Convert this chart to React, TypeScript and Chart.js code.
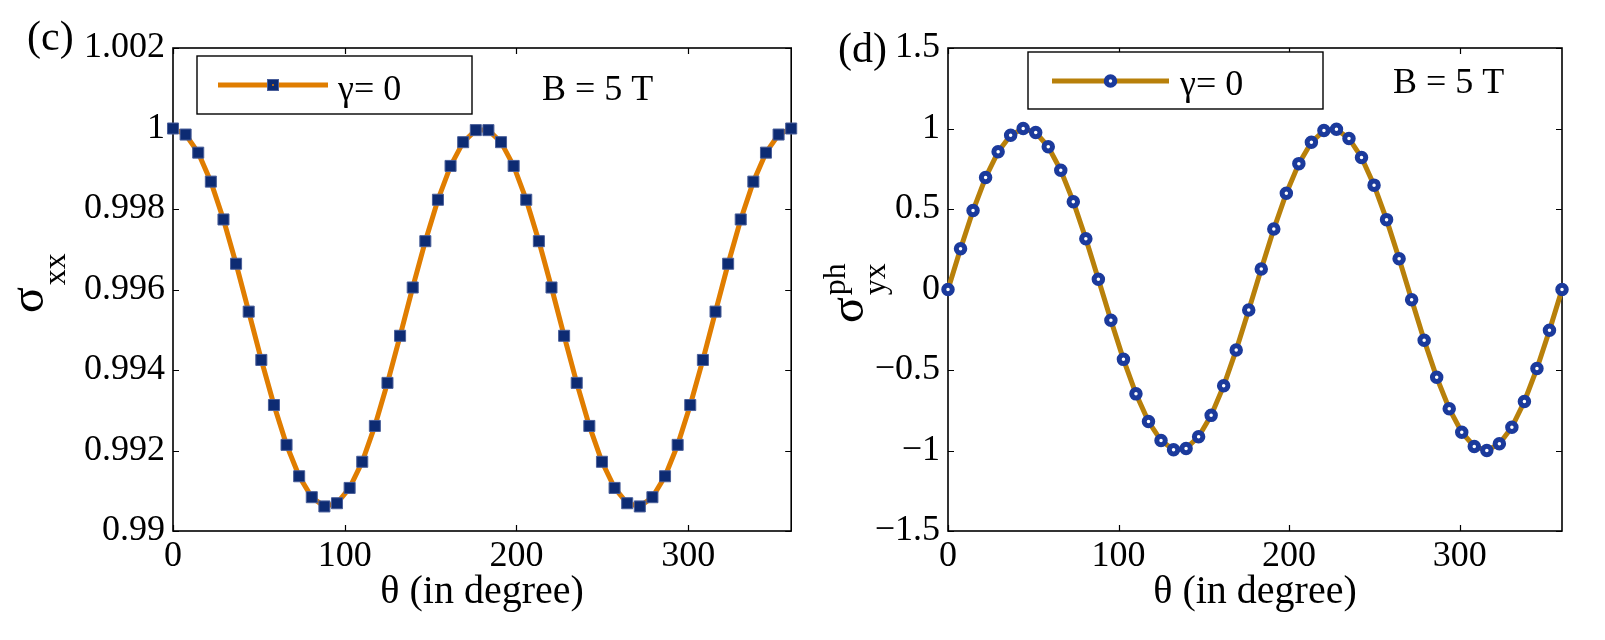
import React, { useEffect, useRef, useState } from 'react';
import { Chart, registerables } from 'chart.js';

Chart.register(...registerables);

// ---------- data ----------
const theta = [
  0, 7.35, 14.69, 22.04, 29.39, 36.73, 44.08, 51.43, 58.78, 66.12,
  73.47, 80.82, 88.16, 95.51, 102.86, 110.2, 117.55, 124.9, 132.24, 139.59,
  146.94, 154.29, 161.63, 168.98, 176.33, 183.67, 191.02, 198.37, 205.71, 213.06,
  220.41, 227.76, 235.1, 242.45, 249.8, 257.14, 264.49, 271.84, 279.18, 286.53,
  293.88, 301.22, 308.57, 315.92, 323.27, 330.61, 337.96, 345.31, 352.65, 360,
];

const sigmaXX = [
  1.0, 0.99985, 0.9994, 0.99868, 0.99774, 0.99664, 0.99545, 0.99425, 0.99313, 0.99214,
  0.99136, 0.99084, 0.99061, 0.99069, 0.99107, 0.99172, 0.99261, 0.99368, 0.99485, 0.99605,
  0.9972, 0.99823, 0.99907, 0.99966, 0.99996, 0.99996, 0.99966, 0.99907, 0.99823, 0.9972,
  0.99605, 0.99485, 0.99368, 0.99261, 0.99172, 0.99107, 0.99069, 0.99061, 0.99084, 0.99136,
  0.99214, 0.99313, 0.99425, 0.99545, 0.99664, 0.99774, 0.99868, 0.9994, 0.99985, 1.0,
];

const sigmaYXph = [
  0, 0.2537, 0.4907, 0.6957, 0.8551, 0.9587, 0.9995, 0.9749, 0.8866, 0.7403,
  0.5455, 0.3151, 0.0641, -0.1912, -0.4339, -0.6482, -0.8203, -0.9385, -0.9954, -0.9872,
  -0.9144, -0.7818, -0.5981, -0.3753, -0.1279, 0.1279, 0.3753, 0.5981, 0.7818, 0.9144,
  0.9872, 0.9954, 0.9385, 0.8203, 0.6482, 0.4339, 0.1912, -0.0641, -0.3151, -0.5455,
  -0.7403, -0.8866, -0.9749, -0.9995, -0.9587, -0.8551, -0.6957, -0.4907, -0.2537, 0,
];

const xTicks = [0, 100, 200, 300];
const xTickLabels = ['0', '100', '200', '300'];
const leftYTicks = [0.99, 0.992, 0.994, 0.996, 0.998, 1, 1.002];
const leftYTickLabels = ['0.99', '0.992', '0.994', '0.996', '0.998', '1', '1.002'];
const rightYTicks = [-1.5, -1, -0.5, 0, 0.5, 1, 1.5];
const rightYTickLabels = ['\u22121.5', '\u22121', '\u22120.5', '0', '0.5', '1', '1.5'];

const xTitle = '\u03b8 (in degree)';
const legendText = '\u03b3= 0';
const fieldText = 'B = 5 T';

const SERIF = "'Liberation Serif', 'Times New Roman', Times, serif";

type PanelProps = {
  width: number;
  left: number;
  yMin: number;
  yMax: number;
  yTicks: number[];
  yTickLabels: string[];
  values: number[];
  kind: 'square' | 'circle';
  lineColor: string;
  markerColor: string;
  yAxisWidth: number;
  rightPad: number;
  panelLabel: string;
  panelLabelPos: [number, number];
  legendBox: [number, number, number, number];
  legendLine: [number, number, number];
  legendTextPos: [number, number];
  fieldPos: [number, number];
  titleBase: [number, number];
  titleSup?: string;
  titleSub: string;
};

function drawMarker(ctx: CanvasRenderingContext2D, kind: string, x: number, y: number, lineColor: string, markerColor: string) {
  if (kind === 'square') {
    ctx.fillStyle = markerColor;
    ctx.fillRect(x - 5.5, y - 5.5, 11, 11);
    ctx.strokeStyle = '#4a5f9a';
    ctx.lineWidth = 1;
    ctx.strokeRect(x - 5.5, y - 5.5, 11, 11);
    ctx.fillStyle = lineColor;
    ctx.beginPath();
    ctx.arc(x, y, 1, 0, Math.PI * 2);
    ctx.fill();
  } else {
    ctx.strokeStyle = markerColor;
    ctx.lineWidth = 5;
    ctx.fillStyle = '#ffffff';
    ctx.beginPath();
    ctx.arc(x, y, 4.25, 0, Math.PI * 2);
    ctx.fill();
    ctx.stroke();
  }
}

function Panel(p: PanelProps) {
  const ref = useRef<HTMLCanvasElement | null>(null);

  useEffect(() => {
    if (!ref.current) return;
    const points = theta.map((t, i) => ({ x: t, y: p.values[i] }));

    const decor = {
      id: 'decor',
      beforeDatasetsDraw(chart: any) {
        const { ctx, chartArea: a, scales } = chart;
        ctx.save();
        ctx.strokeStyle = '#000';
        ctx.lineWidth = 1.2;
        ctx.beginPath();
        for (const v of xTicks) {
          const px = Math.round(scales.x.getPixelForValue(v)) + 0.5;
          ctx.moveTo(px, a.bottom);
          ctx.lineTo(px, a.bottom - 6);
          ctx.moveTo(px, a.top);
          ctx.lineTo(px, a.top + 6);
        }
        for (const v of p.yTicks) {
          const py = Math.round(scales.y.getPixelForValue(v)) + 0.5;
          ctx.moveTo(a.left, py);
          ctx.lineTo(a.left + 6, py);
          ctx.moveTo(a.right, py);
          ctx.lineTo(a.right - 6, py);
        }
        ctx.stroke();
        ctx.lineWidth = 1.6;
        ctx.strokeRect(a.left, a.top, a.right - a.left, a.bottom - a.top);
        ctx.restore();
      },
      afterDraw(chart: any) {
        const { ctx } = chart;
        ctx.save();
        const [bx0, by0, bx1, by1] = p.legendBox;
        ctx.fillStyle = '#fff';
        ctx.fillRect(bx0, by0, bx1 - bx0, by1 - by0);
        ctx.strokeStyle = '#000';
        ctx.lineWidth = 1.4;
        ctx.strokeRect(bx0, by0, bx1 - bx0, by1 - by0);
        const [lx0, lx1, ly] = p.legendLine;
        ctx.strokeStyle = p.lineColor;
        ctx.lineWidth = 5;
        ctx.beginPath();
        ctx.moveTo(lx0, ly);
        ctx.lineTo(lx1, ly);
        ctx.stroke();
        drawMarker(ctx, p.kind, (lx0 + lx1) / 2, ly, p.lineColor, p.markerColor);
        ctx.fillStyle = '#000';
        ctx.font = `36px ${SERIF}`;
        ctx.textAlign = 'left';
        ctx.textBaseline = 'alphabetic';
        ctx.fillText(legendText, p.legendTextPos[0], p.legendTextPos[1]);
        ctx.fillText(fieldText, p.fieldPos[0], p.fieldPos[1]);
        ctx.font = `42px ${SERIF}`;
        ctx.textBaseline = 'middle';
        ctx.fillText(p.panelLabel, p.panelLabelPos[0], p.panelLabelPos[1]);
        ctx.translate(p.titleBase[0], p.titleBase[1]);
        ctx.rotate(-Math.PI / 2);
        ctx.textBaseline = 'alphabetic';
        ctx.font = `48px ${SERIF}`;
        ctx.fillText('\u03c3', 0, 0);
        const w = ctx.measureText('\u03c3').width + 2;
        ctx.font = `32px ${SERIF}`;
        ctx.fillText(p.titleSub, w, 22);
        if (p.titleSup) ctx.fillText(p.titleSup, w, -18);
        ctx.restore();
      },
    };

    const chart = new Chart(ref.current, {
      type: 'line',
      data: {
        datasets: [
          {
            data: points,
            borderColor: p.lineColor,
            borderWidth: 5,
            tension: 0,
            pointStyle: p.kind === 'square' ? 'rect' : 'circle',
            pointRadius: p.kind === 'square' ? 7.8 : 4.25,
            pointBackgroundColor: p.kind === 'square' ? p.markerColor : '#ffffff',
            pointBorderColor: p.kind === 'square' ? '#4a5f9a' : p.markerColor,
            pointBorderWidth: p.kind === 'square' ? 1 : 5,
            clip: false as any,
          } as any,
          ...(p.kind === 'square'
            ? [
                {
                  data: points,
                  showLine: false,
                  pointStyle: 'circle',
                  pointRadius: 1,
                  pointBorderWidth: 0,
                  pointBackgroundColor: p.lineColor,
                  clip: false as any,
                } as any,
              ]
            : []),
        ],
      },
      options: {
        animation: false,
        responsive: false,
        events: [],
        layout: { padding: { top: 48, right: p.rightPad, left: 0, bottom: 0 } },
        plugins: { legend: { display: false }, tooltip: { enabled: false } },
        scales: {
          x: {
            type: 'linear',
            min: 0,
            max: 360,
            grid: { display: false, drawTicks: false },
            border: { display: false },
            afterBuildTicks: (s: any) => {
              s.ticks = xTicks.map((v) => ({ value: v }));
            },
            afterFit: (s: any) => {
              s.height = 109;
            },
            ticks: {
              autoSkip: false,
              maxRotation: 0,
              padding: 4,
              color: '#000',
              font: { family: SERIF, size: 36 },
              callback: (_v: any, i: number) => xTickLabels[i],
            },
            title: {
              display: true,
              text: xTitle,
              color: '#000',
              font: { family: SERIF, size: 40 },
              padding: { top: 0, bottom: 24 },
            },
          },
          y: {
            type: 'linear',
            min: p.yMin,
            max: p.yMax,
            grid: { display: false, drawTicks: false },
            border: { display: false },
            afterBuildTicks: (s: any) => {
              s.ticks = p.yTicks.map((v) => ({ value: v }));
            },
            afterFit: (s: any) => {
              s.width = p.yAxisWidth;
            },
            ticks: {
              autoSkip: false,
              padding: 8,
              color: '#000',
              font: { family: SERIF, size: 36 },
              callback: (_v: any, i: number) => p.yTickLabels[i],
            },
          },
        },
      } as any,
      plugins: [decor as any],
    });
    return () => chart.destroy();
  }, []);

  return (
    <canvas
      ref={ref}
      width={p.width}
      height={640}
      style={{ position: 'absolute', left: p.left, top: 0, width: p.width, height: 640 }}
    />
  );
}

export default function App() {
  const [ready, setReady] = useState(false);
  useEffect(() => {
    let alive = true;
    const fonts: any = (document as any).fonts;
    const done = () => {
      if (alive) setReady(true);
    };
    if (fonts && fonts.load) {
      Promise.all([
        fonts.load("36px 'Liberation Serif'", '0123456789.\u2212\u03b8\u03b3\u03c3'),
        fonts.load("48px 'Liberation Serif'", '\u03c3'),
      ]).then(done, done);
    } else {
      done();
    }
    return () => {
      alive = false;
    };
  }, []);

  return (
    <div style={{ position: 'absolute', left: 0, top: 0, width: 1605, height: 640, background: '#fff', overflow: 'hidden', fontFamily: SERIF }}>
      <span style={{ position: 'absolute', left: -9999, top: 0, fontFamily: SERIF, fontSize: 36 }}>
        {'0.998 \u03b8 (in degree) \u03b3= 0 B = 5 T \u03c3'}
      </span>
      {ready && (
        <>
          <Panel
            width={800}
            left={0}
            yMin={0.99}
            yMax={1.002}
            yTicks={leftYTicks}
            yTickLabels={leftYTickLabels}
            values={sigmaXX}
            kind="square"
            lineColor="#E07D00"
            markerColor="#0D2B73"
            yAxisWidth={173}
            rightPad={2}
            panelLabel="(c)"
            panelLabelPos={[27, 39]}
            legendBox={[197, 56, 472, 114]}
            legendLine={[218, 328, 85]}
            legendTextPos={[338, 100]}
            fieldPos={[542, 100]}
            titleBase={[43, 313]}
            titleSub="xx"
          />
          <Panel
            width={805}
            left={800}
            yMin={-1.5}
            yMax={1.5}
            yTicks={rightYTicks}
            yTickLabels={rightYTickLabels}
            values={sigmaYXph}
            kind="circle"
            lineColor="#B8800A"
            markerColor="#1B3A9C"
            yAxisWidth={148}
            rightPad={43}
            panelLabel="(d)"
            panelLabelPos={[38, 51]}
            legendBox={[228, 52, 523, 109]}
            legendLine={[252, 369, 81]}
            legendTextPos={[380, 95]}
            fieldPos={[593, 93]}
            titleBase={[63, 323]}
            titleSup="ph"
            titleSub="yx"
          />
        </>
      )}
    </div>
  );
}
